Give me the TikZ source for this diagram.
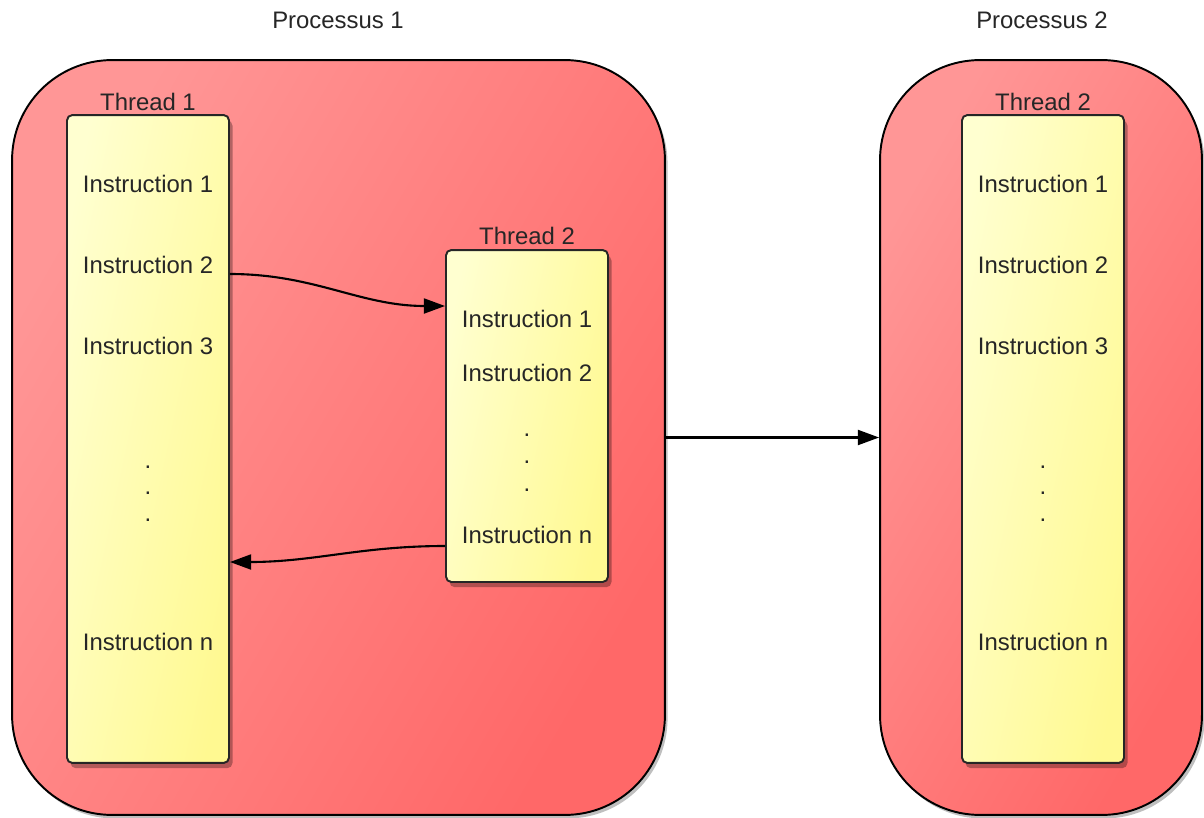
\documentclass[tikz,border=0pt]{standalone}
\usepackage{fontspec}
\setmainfont{Liberation Sans}
\usetikzlibrary{arrows.meta,shadows,positioning,calc}

\definecolor{procLight}{RGB}{255,150,150}
\definecolor{procDark}{RGB}{255,104,104}
\definecolor{thrLight}{RGB}{255,255,208}
\definecolor{thrDark}{RGB}{255,249,145}

\tikzset{
  procbox/.style={draw=black,line width=1.1pt,rounded corners=2cm,
    left color=procLight,right color=procDark,shading angle=60,
    drop shadow={shadow xshift=1.5pt,shadow yshift=-2pt,opacity=.25,fill=black}},
  thrbox/.style={draw=black!85,line width=1.1pt,rounded corners=3pt,
    minimum width=3.24cm,left color=thrLight,right color=thrDark,shading angle=78,
    drop shadow={shadow xshift=2pt,shadow yshift=-3pt,opacity=.3,fill=black}},
  txt/.style={text=black!85,inner sep=2pt},
  flow/.style={-{Triangle[length=12pt,width=8.5pt]},line width=1.2pt},
}

\begin{document}
\begin{tikzpicture}[x=0.02cm,y=-0.02cm,font=\fontsize{13.6}{16}\selectfont]
 \useasboundingbox (0,0) rectangle (1204,818);
 % the two processes
 \node[procbox,minimum width=13.06cm,minimum height=15.1cm] (proc1) at (338.5,437.5) {};
 \node[procbox,minimum width=6.44cm,minimum height=15.1cm] (proc2) at (1041,437.5) {};
 \node[txt] (proc1lab) at (338,20) {Processus 1};
 \node[txt] (proc2lab) at (1042,20) {Processus 2};
 % long threads
 \foreach \cx/\nm/\lab in {148/thr1/Thread 1,1043/thr3/Thread 2}{%
   \node[thrbox,minimum height=12.96cm] (\nm) at (\cx,439) {};
   \node[txt,above=0pt of \nm] (\nm lab) {\lab};
   \foreach \y/\i in {184/1,265/2,346/3,642/n}
     \node[txt] (\nm ins\i) at (\cx,\y) {Instruction \i};
   \foreach \y/\k in {467/1,493/2,520/3}
     \node[txt] (\nm dot\k) at (\cx,\y) {.};
 }
 % short thread
 \node[thrbox,minimum height=6.64cm] (thr2) at (527,416) {};
 \node[txt,above=0pt of thr2] (thr2lab) {Thread 2};
 \foreach \y/\i in {319/1,373/2,535/n}
   \node[txt] (thr2ins\i) at (527,\y) {Instruction \i};
 \foreach \y/\k in {435/1,462/2,490/3}
   \node[txt] (thr2dot\k) at (527,\y) {.};
 % connectors
 \draw[flow] (thr1.east |- 0,274) to[out=0,in=180] (thr2.west |- 0,306);
 \draw[flow] (thr2.west |- 0,546) to[out=180,in=0] (thr1.east |- 0,562);
 \draw[flow] (proc1.east) -- (proc2.west);
\end{tikzpicture}
\end{document}
